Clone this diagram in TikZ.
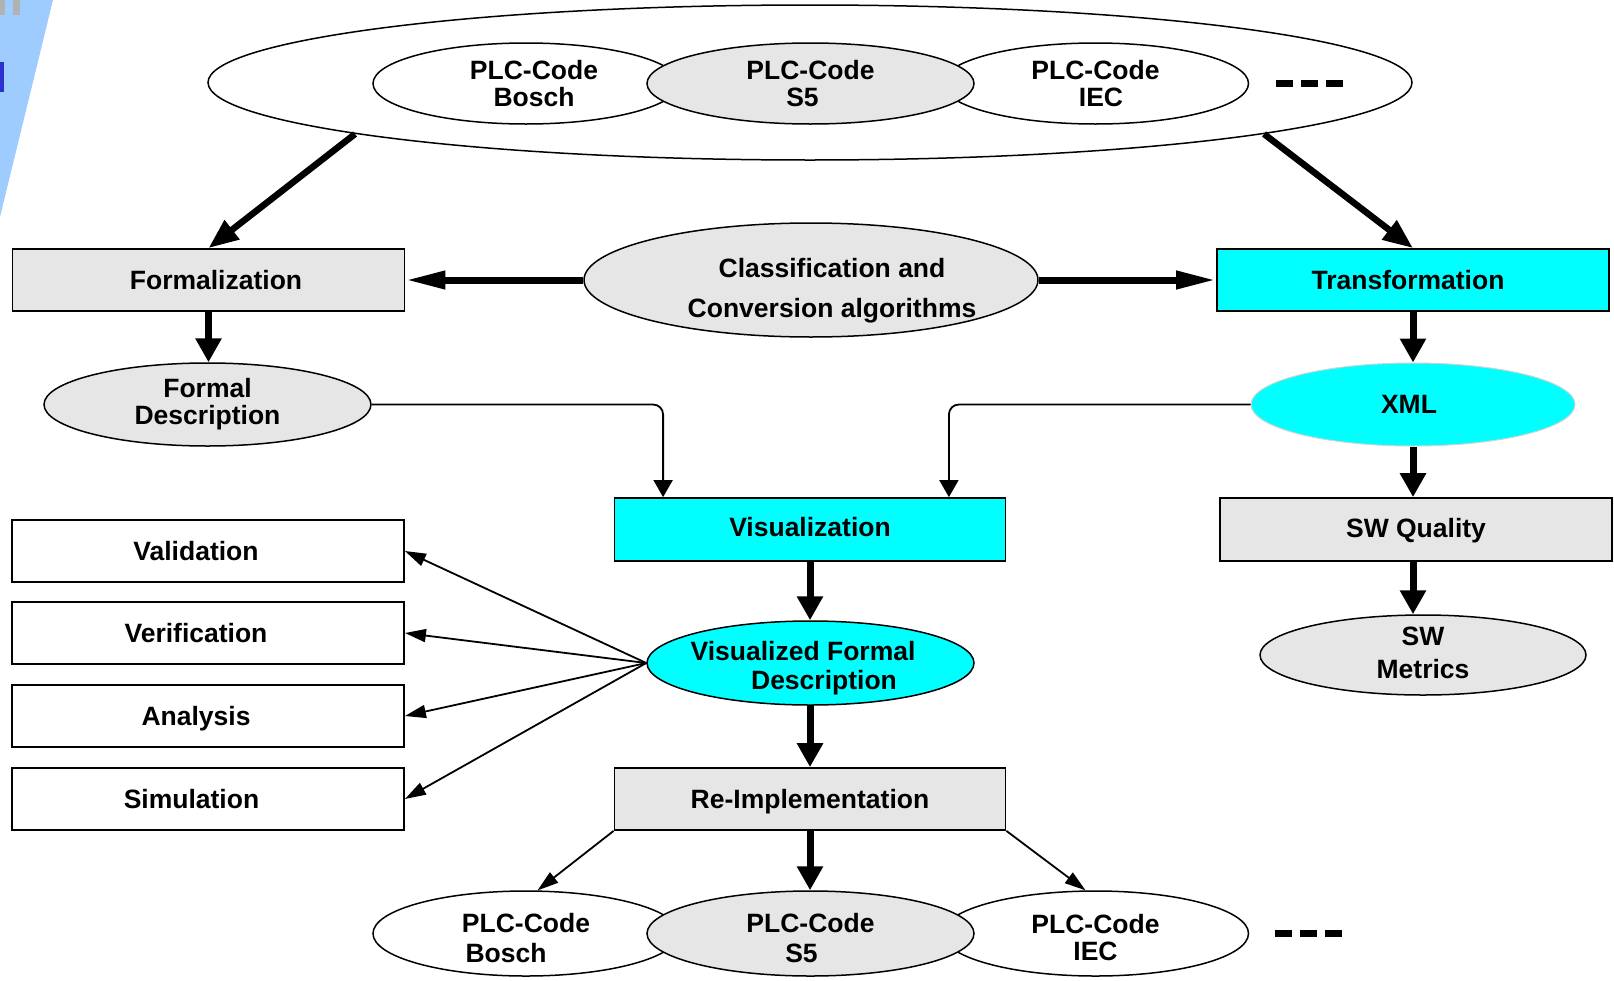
\documentclass[tikz,border=0pt]{standalone}
\usepackage{fontspec}
\setmainfont{Liberation Sans}
\usetikzlibrary{shapes.geometric,arrows.meta}
\definecolor{gfill}{HTML}{E6E6E6}
\definecolor{cyanf}{HTML}{00FFFF}
\definecolor{slideblue}{HTML}{9ECCFF}
\definecolor{slidedark}{HTML}{3030D0}
\newcommand{\tstrut}[1]{\rule{0pt}{#1}}
\tikzset{
  lbl/.style={font=\fontsize{26.5pt}{#1}\selectfont\bfseries},
  lbl/.default={27pt},
  boxn/.style={draw, line width=1.8pt, minimum width=392pt, minimum height=62pt, inner sep=0pt, text height=19pt, text depth=0pt, lbl},
  elln/.style={ellipse, draw, line width=1.5pt, inner sep=0pt, align=center},
  plcn/.style={elln, minimum width=306pt, minimum height=81pt, fill=white},
  s5n/.style={elln, minimum width=327pt, minimum height=81pt, fill=gfill},
  varr/.style={line width=7pt, -{Triangle[length=24pt,width=25pt]}},
  harr/.style={line width=7pt, -{Triangle[length=40pt,width=17pt]}},
  darr/.style={line width=6.5pt, -{Triangle[length=30pt,width=23pt]}},
  thina/.style={line width=1.8pt, -{Triangle[length=21pt,width=13pt]}},
  thinv/.style={line width=1.8pt, -{Triangle[length=17pt,width=19pt]}},
}
\begin{document}
\begin{tikzpicture}[x=1pt,y=-1pt]
\useasboundingbox (0,0) rectangle (1614,980);
% slide remnants at the top left corner
\fill[slideblue] (0,0) -- (53,0) -- (0,217) -- cycle;
\fill[gray!60] (0,0) rectangle (5,15);
\fill[gray!60] (13,0) rectangle (20,15);
\fill[slidedark] (0,62) rectangle (3.5,92);

% top group
\node[elln, minimum width=1204pt, minimum height=155pt, fill=white] (top) at (810,82.5) {};
\node[plcn, lbl] (tbosch) at (526,83.5) {\hspace*{16pt}PLC-Code\\\hspace*{16pt}Bosch};
\node[plcn, lbl] (tiec) at (1095.5,83.5) {PLC-Code\\\hspace*{11pt}IEC};
\node[s5n, lbl] (ts5) at (810.5,83.5) {PLC-Code\\S5\hspace*{16pt}};
\node[inner sep=0pt] (tdots) at (1309.5,83.5) {\rule{17pt}{6.5pt}\hspace{8pt}\rule{17pt}{6.5pt}\hspace{8pt}\rule{17pt}{6.5pt}};

% second row
\node[boxn, fill=gfill] (form) at (208.5,280) {\hspace*{15pt}Formalization};
\node[boxn, fill=cyanf] (trans) at (1413,280) {Transformation\hspace*{10pt}};
\node[elln, minimum width=454pt, minimum height=114pt, fill=gfill] (cls) at (811,280) {};
\node[lbl=40pt, align=center, inner sep=0pt] (clsT) at (832,291) {Classification and\\Conversion algorithms};

% third row
\node[elln, lbl, minimum width=327pt, minimum height=83pt, fill=gfill] (fd) at (207.5,404.5) {Formal\\Description};
\node[elln, lbl, minimum width=324pt, minimum height=83pt, fill=cyanf, draw=gray!35, line width=1pt] (xml) at (1413,404.5) {XML\hspace*{8pt}};

% right column
\node[boxn, fill=gfill, minimum height=63pt] (swq) at (1416,529.5) {\raisebox{2pt}[\height][\depth]{SW Quality}};
\node[elln, lbl=33pt, minimum width=326pt, minimum height=80pt, fill=gfill] (swm) at (1423,655) {SW\\Metrics\rule[-4pt]{0pt}{4pt}};

% center column
\node[boxn, fill=cyanf, minimum width=391pt, minimum height=63pt] (vis) at (810,529.5) {\raisebox{3pt}[\height][\depth]{Visualization}};
\node[elln, minimum width=327pt, minimum height=84pt, fill=cyanf] (vfd) at (810.5,663) {};
\node[lbl=29pt, align=center, inner sep=0pt] (vfdT) at (810.5,668.5) {Visualized Formal\hspace*{15pt}\\\hspace*{27pt}Description};
\node[boxn, fill=gfill, minimum width=391pt] (re) at (810,799) {Re-Implementation};

% left column
\node[boxn, fill=white] (val) at (208,551) {Validation\hspace*{24pt}};
\node[boxn, fill=white] (ver) at (208,633) {Verification\hspace*{24pt}};
\node[boxn, fill=white] (ana) at (208,716) {Analysis\hspace*{24pt}};
\node[boxn, fill=white] (sim) at (208,799) {Simulation\hspace*{33pt}};

% bottom group
\node[plcn, lbl=30pt, minimum height=85pt] (bbosch) at (526,933.5) {\tstrut{28.5pt}PLC-Code\\Bosch\hspace*{40pt}};
\node[plcn, lbl=27pt, minimum height=85pt] (biec) at (1095.5,933.5) {\tstrut{27pt}PLC-Code\\IEC};
\node[s5n, lbl=30pt, minimum height=85pt] (bs5) at (810.5,933.5) {\tstrut{28.5pt}PLC-Code\\S5\hspace*{18pt}};
\node[inner sep=0pt] (bdots) at (1308,933.5) {\rule{17pt}{6.5pt}\hspace{8pt}\rule{17pt}{6.5pt}\hspace{8pt}\rule{17pt}{6.5pt}};

% connectors
\draw[darr] ([xshift=-455pt,yshift=-51.5pt]top.center) -- (form.north);
\draw[darr] ([xshift=454pt,yshift=-51.5pt]top.center) -- (trans.north);
\draw[harr] (cls.west) -- (form.east);
\draw[harr] (cls.east) -- (trans.west);
\draw[varr] (form.south) -- (form.south |- fd.north);
\draw[varr] (trans.south) -- (xml.north);
\draw[varr] (xml.south) -- (xml.south |- swq.north);
\draw[varr] (xml.south |- swq.south) -- (xml.south |- swm.north);
\draw[thinv, rounded corners=10pt] (fd.east) -| ([xshift=49.5pt]vis.north west);
\draw[thinv, rounded corners=10pt] (xml.west) -| ([xshift=-57.5pt]vis.north east);
\draw[varr] (vis.south) -- (vis.south |- vfd.north);
\draw[varr] (vis.south |- vfd.south) -- (vis.south |- re.north);
\draw[thina] (vfd.west) -- (val.east);
\draw[thina] (vfd.west) -- (ver.east);
\draw[thina] (vfd.west) -- (ana.east);
\draw[thina] (vfd.west) -- (sim.east);
\draw[varr] (re.south) -- (re.south |- bs5.north);
\draw[thina] (re.south west) -- (bbosch.75);
\draw[thina] (re.south east) -- (biec.103);
\end{tikzpicture}
\end{document}
